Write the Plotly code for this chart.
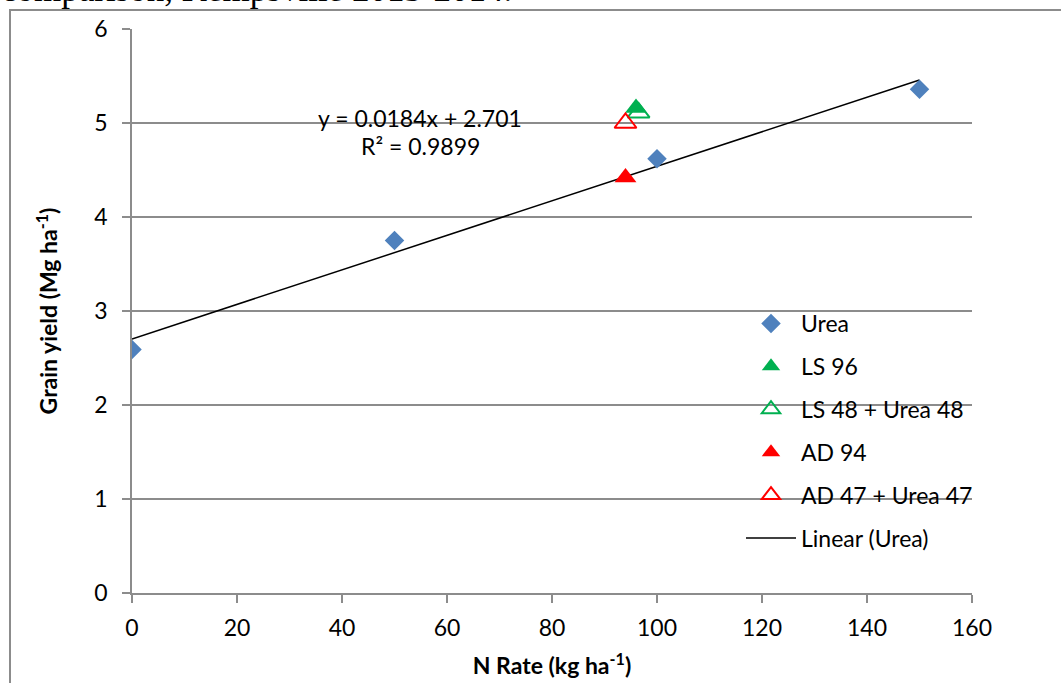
import numpy as np
import plotly.graph_objects as go

urea_x = [0, 50, 100, 150]
urea_y = [2.59, 3.75, 4.62, 5.36]
ls96_x = [96]
ls96_y = [5.16]
ls48_x = [96.5]
ls48_y = [5.11]
ad94_x = [94]
ad94_y = [4.42]
ad47_x = [94]
ad47_y = [5.0]
x_ticks = [0, 20, 40, 60, 80, 100, 120, 140, 160]
y_ticks = [0, 1, 2, 3, 4, 5, 6]

slope, intercept = np.polyfit(urea_x, urea_y, 1)
fit_x = [min(urea_x), max(urea_x)]
fit_y = [slope * v + intercept for v in fit_x]

FONT = "Lato"
FS = 23
W, H = 1061, 683
L, R, T, B = 132, 89, 29, 90
pw, ph = W - L - R, H - T - B

def px_x(p):
    return (p - L) / pw

def px_y(p):
    return (H - B - p) / ph

fig = go.Figure()
fig.add_trace(go.Scatter(x=fit_x, y=fit_y, mode="lines", name="Linear (Urea)",
                         line=dict(color="black", width=1.5), legendrank=6, legendgroup="f"))
fig.add_trace(go.Scatter(x=urea_x, y=urea_y, mode="markers", name="Urea",
                         marker=dict(symbol="diamond", size=15, color="#4F81BD"), legendrank=1, legendgroup="a"))
fig.add_trace(go.Scatter(x=ls48_x, y=ls48_y, mode="markers", name="LS 48 + Urea 48",
                         marker=dict(symbol="triangle-up-open", size=19, color="#00B050", line=dict(width=2)),
                         legendrank=3, legendgroup="c"))
fig.add_trace(go.Scatter(x=ls96_x, y=ls96_y, mode="markers", name="LS 96",
                         marker=dict(symbol="triangle-up", size=19, color="#00B050"), legendrank=2, legendgroup="b"))
fig.add_trace(go.Scatter(x=ad94_x, y=ad94_y, mode="markers", name="AD 94",
                         marker=dict(symbol="triangle-up", size=19, color="#FF0000"), legendrank=4, legendgroup="d"))
fig.add_trace(go.Scatter(x=ad47_x, y=ad47_y, mode="markers", name="AD 47 + Urea 47",
                         marker=dict(symbol="triangle-up-open", size=19, color="#FF0000", line=dict(width=2)),
                         legendrank=5, legendgroup="e"))

fig.update_layout(
    width=W, height=H,
    margin=dict(l=L, r=R, t=T, b=B, autoexpand=False),
    paper_bgcolor="white", plot_bgcolor="white",
    font=dict(family=FONT, size=FS, color="black"),
    showlegend=True,
    legend=dict(x=px_x(741), y=px_y(302), xanchor="left", yanchor="top",
                font=dict(family=FONT, size=FS), tracegroupgap=10, itemwidth=50,
                bgcolor="rgba(0,0,0,0)"),
    xaxis=dict(range=[0, 160], tickvals=x_ticks, showgrid=False, zeroline=False, automargin=False,
               showline=True, linecolor="#8C8C8C", linewidth=1.5,
               ticks="outside", ticklen=8, tickcolor="#8C8C8C", tickwidth=1.5,
               tickfont=dict(family=FONT, size=FS), ticklabelstandoff=6,
               title=dict(text="<b>N Rate (kg ha<sup>-1</sup>)</b>", font=dict(family=FONT, size=FS), standoff=18)),
    yaxis=dict(range=[0, 6], tickvals=y_ticks, showgrid=True, gridcolor="#8C8C8C", gridwidth=1.5,
               zeroline=False, showline=True, linecolor="#8C8C8C", linewidth=1.5, automargin=False,
               ticks="outside", ticklen=8, tickcolor="#8C8C8C", tickwidth=1.5,
               tickfont=dict(family=FONT, size=FS), ticklabelstandoff=10,
               title=dict(text="<b>Grain yield (Mg ha<sup>-1</sup>)</b>", font=dict(family=FONT, size=FS), standoff=30)),
)

fig.add_annotation(x=px_x(420), y=px_y(118), xref="paper", yref="paper", showarrow=False,
                   text="y = 0.0184x + 2.701", font=dict(family=FONT, size=FS), xanchor="center", yanchor="middle")
fig.add_annotation(x=px_x(420), y=px_y(146), xref="paper", yref="paper", showarrow=False,
                   text="R² = 0.9899", font=dict(family=FONT, size=FS), xanchor="center", yanchor="middle")

fig.add_annotation(x=px_x(0), y=px_y(10), xref="paper", yref="paper", showarrow=False,
                   text="comparison, Kempsville 2013-2014.", xanchor="left", yanchor="bottom",
                   font=dict(family="Liberation Serif", size=35), borderpad=0)

fig.add_shape(type="rect", xref="paper", yref="paper",
              x0=px_x(10), x1=px_x(1100), y0=px_y(10), y1=px_y(720),
              line=dict(color="#8C8C8C", width=2), fillcolor="rgba(0,0,0,0)", layer="below")

fig.write_html("out.html")
